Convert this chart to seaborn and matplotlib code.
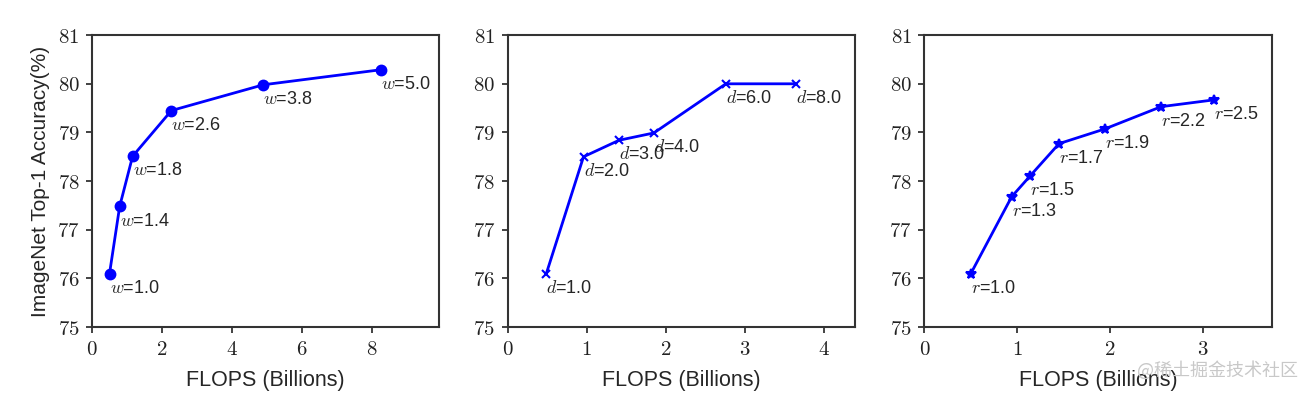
import matplotlib
matplotlib.use("Agg")
import matplotlib.pyplot as plt
import seaborn as sns
from matplotlib.ticker import FuncFormatter

# width scaling
w_vals = ["1.0", "1.4", "1.8", "2.6", "3.8", "5.0"]
w_flops = [0.50, 0.79, 1.16, 2.27, 4.90, 8.27]
w_acc = [76.1, 77.48, 78.51, 79.45, 79.98, 80.29]

# depth scaling
d_vals = ["1.0", "2.0", "3.0", "4.0", "6.0", "8.0"]
d_flops = [0.49, 0.96, 1.41, 1.85, 2.76, 3.65]
d_acc = [76.1, 78.5, 78.84, 78.99, 80.0, 80.0]

# resolution scaling
r_vals = ["1.0", "1.3", "1.5", "1.7", "1.9", "2.2", "2.5"]
r_flops = [0.50, 0.94, 1.14, 1.45, 1.94, 2.55, 3.12]
r_acc = [76.1, 77.68, 78.11, 78.77, 79.07, 79.53, 79.67]

sns.set_style("ticks")
plt.rcParams["font.family"] = ["Liberation Sans", "DejaVu Sans"]
plt.rcParams["mathtext.fontset"] = "cm"

fig = plt.figure(figsize=(13.15, 3.95), dpi=100)

panels = [
    (0.070, "w", w_vals, w_flops, w_acc, "o", 9.93, [0, 2, 4, 6, 8]),
    (0.386, "d", d_vals, d_flops, d_acc, "x", 4.39, [0, 1, 2, 3, 4]),
    (0.703, "r", r_vals, r_flops, r_acc, "*", 3.74, [0, 1, 2, 3]),
]

fmt = FuncFormatter(lambda v, p: f"${v:g}$")

for i, (left, sym, vals, flops, acc, mk, xmax, xt) in enumerate(panels):
    ax = fig.add_axes([left, 0.172, 0.264, 0.739])
    sns.lineplot(x=flops, y=acc, ax=ax, color="blue", lw=2, marker=mk,
                 markersize=7 if mk != "x" else 6, markeredgecolor="blue",
                 markeredgewidth=1.5, sort=False)
    for xv, yv, lab in zip(flops, acc, vals):
        ax.text(xv, yv - 0.3, f"${sym}$={lab}", ha="left", va="center",
                fontsize=13)
    ax.set_xlim(0, xmax)
    ax.set_ylim(75, 81)
    ax.set_xticks(xt)
    ax.set_yticks([75, 76, 77, 78, 79, 80, 81])
    ax.xaxis.set_major_formatter(fmt)
    ax.yaxis.set_major_formatter(fmt)
    ax.tick_params(labelsize=15, length=4, width=1.2, pad=5,
                   colors="#222222")
    for s in ax.spines.values():
        s.set_color("#333333")
        s.set_linewidth(1.5)
    ax.set_xlabel("FLOPS (Billions)", fontsize=15.5, labelpad=8)
    if i == 0:
        ax.set_ylabel("ImageNet Top-1 Accuracy(%)", fontsize=15, labelpad=5)

fig.text(0.987, 0.063, "@稀土掘金技术社区", ha="right", va="center",
         fontsize=13, color="#c8c8c8", family=["Noto Sans CJK SC", "DejaVu Sans"])

fig.savefig("out.png", dpi=100)
